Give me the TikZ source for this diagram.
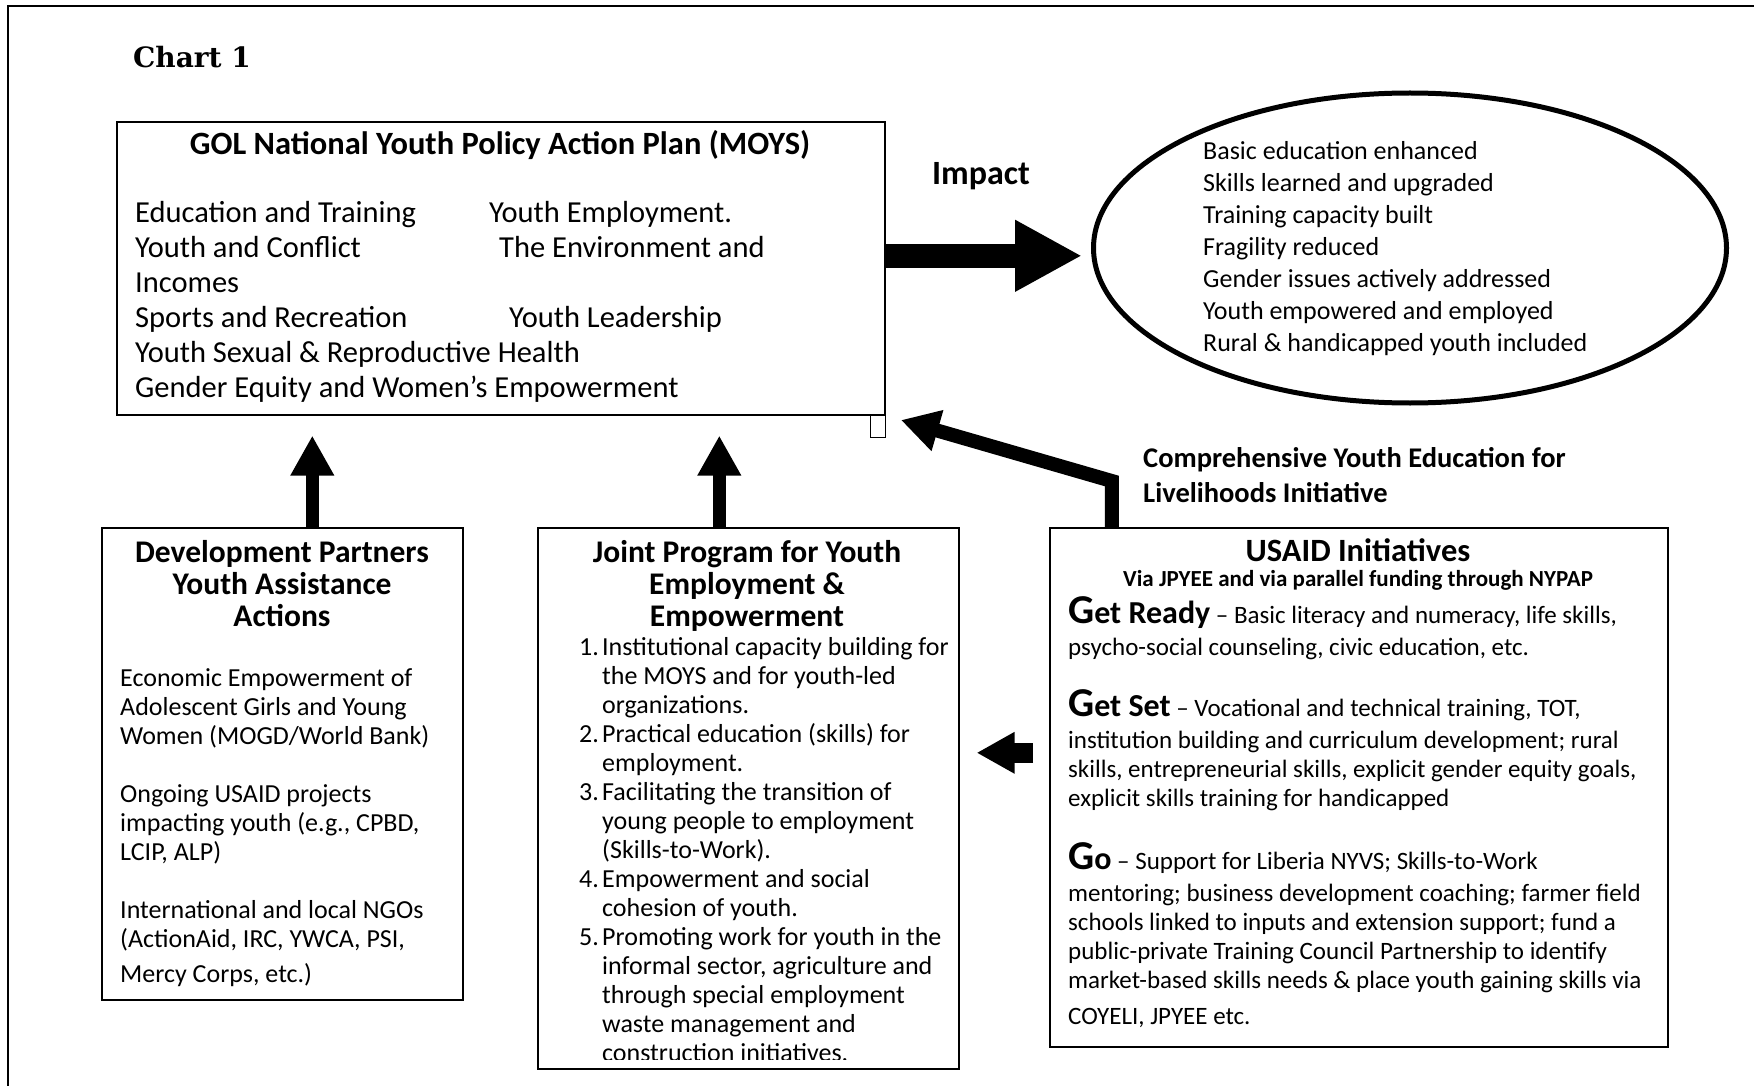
\documentclass[tikz,border=0pt]{standalone}
\usepackage{fontspec}
\setmainfont{Carlito}
\newfontfamily\chartfont{DejaVu Serif}
\usetikzlibrary{arrows.meta,shapes.geometric}
\setlength\lineskiplimit{-100pt}

\begin{document}
\begin{tikzpicture}[x=1pt,y=-1pt,
    box/.style={draw, line width=1.6pt, inner sep=0pt, anchor=north west},
    txt/.style={inner sep=0pt, anchor=north west, align=left},
    heading/.style={inner sep=0pt, anchor=north, align=center, font=\bfseries\fontsize{31.5}{32}\selectfont},
    uparrow/.style={line width=13pt, -{Triangle[width=41pt,length=40pt]}, shorten >=20pt},
    bigarrow/.style={line width=24pt, -{Triangle[width=67pt,length=67pt]}},
    sidearrow/.style={line width=20pt, -{Triangle[width=39pt,length=38pt]}},
    slantarrow/.style={line width=14pt, line join=miter, -{Triangle[width=40pt,length=38pt]}}]
    \useasboundingbox (0,0) rectangle (1754,1086);
    \draw[line width=1.5pt] (8,1086) -- (8,6) -- (1754,6);

    \node[inner sep=0pt] (chart) at (192,57) {\chartfont\bfseries\fontsize{28}{28}\selectfont Chart 1};

    % boxes
    \node[box, minimum width=768pt, minimum height=293pt] (main) at (116,121) {};
    \node[box, minimum width=361pt, minimum height=472pt] (dev) at (101,527) {};
    \node[box, minimum width=421pt, minimum height=541pt] (joint) at (537,527) {};
    \node[box, minimum width=618pt, minimum height=519pt] (usaid) at (1049,527) {};
    \node[draw, ellipse, line width=5pt, minimum width=633pt, minimum height=310pt] (impact) at (1410,248) {};
    \draw[line width=1.3pt] (main.south east) rectangle ++(-15,22);

    % main box text
    \node[inner sep=0pt, anchor=base, font=\bfseries\fontsize{32.5}{32}\selectfont] (maintitle) at (500,155) {GOL National Youth Policy Action Plan (MOYS)};
    \node[txt, font=\fontsize{30.5}{35}\selectfont] (maintext) at (135,201) {%
        \makebox[354pt][l]{Education and Training}Youth Employment.\\
        \makebox[364pt][l]{Youth and Conflict}The Environment and\\
        Incomes\\
        \makebox[374pt][l]{Sports and Recreation}Youth Leadership\\
        Youth Sexual \& Reproductive Health\\
        Gender Equity and Women’s Empowerment};

    \node[inner sep=0pt, anchor=base, font=\bfseries\fontsize{34}{34}\selectfont] (impactlabel) at (981,185) {Impact};
    \node[txt, font=\fontsize{26}{32}\selectfont] (impacttext) at (1203,141) {%
        Basic education enhanced\\
        Skills learned and upgraded\\
        Training capacity built\\
        Fragility reduced\\
        Gender issues actively addressed\\
        Youth empowered and employed\\
        Rural \& handicapped youth included};

    \node[txt, font=\bfseries\fontsize{28.5}{35}\selectfont] (cyel) at (1143,447) {%
        Comprehensive Youth Education for\\
        Livelihoods Initiative};

    % development partners
    \node[heading] (devtitle) at (282,540) {Development Partners\\ Youth Assistance\\ Actions};
    \node[txt, font=\fontsize{26}{29}\selectfont] (devtext) at (120,668) {%
        Economic Empowerment of\\
        Adolescent Girls and Young\\
        Women (MOGD/World Bank)\\[29pt]
        Ongoing USAID projects\\
        impacting youth (e.g., CPBD,\\
        LCIP, ALP)\\[29pt]
        International and local NGOs\\
        (ActionAid, IRC, YWCA, PSI,\\[6pt]
        Mercy Corps, etc.)};

    % joint program
    \node[heading] (jointtitle) at (747,540) {Joint Program for Youth\\ Employment \&\\ Empowerment};
    \begin{scope}
        \clip (joint.north west) rectangle ([yshift=10pt]joint.south east);
        \node[txt, font=\fontsize{26}{29}\selectfont] (jointtext) at (579,637.5) {%
            \makebox[23pt][l]{1.}Institutional capacity building for\\
            \hspace*{23pt}the MOYS and for youth-led\\
            \hspace*{23pt}organizations.\\
            \makebox[23pt][l]{2.}Practical education (skills) for\\
            \hspace*{23pt}employment.\\
            \makebox[23pt][l]{3.}Facilitating the transition of\\
            \hspace*{23pt}young people to employment\\
            \hspace*{23pt}(Skills-to-Work).\\
            \makebox[23pt][l]{4.}Empowerment and social\\
            \hspace*{23pt}cohesion of youth.\\
            \makebox[23pt][l]{5.}Promoting work for youth in the\\
            \hspace*{23pt}informal sector, agriculture and\\
            \hspace*{23pt}through special employment\\
            \hspace*{23pt}waste management and\\
            \hspace*{23pt}construction initiatives.};
    \end{scope}

    % usaid initiatives
    \node[inner sep=0pt, anchor=base, font=\bfseries\fontsize{32.5}{32}\selectfont] (usaidtitle) at (1358,561) {USAID Initiatives};
    \node[inner sep=0pt, anchor=base, font=\bfseries\fontsize{23}{24}\selectfont] (usaidsub) at (1358,586) {Via JPYEE and via parallel funding through NYPAP};
    \node[txt, font=\fontsize{25}{29}\selectfont] (usaidtext) at (1068,596) {%
        {\bfseries\fontsize{41}{29}\selectfont G}{\bfseries\fontsize{32}{29}\selectfont et Ready} -- Basic literacy and numeracy, life skills,\\[3pt]
        psycho-social counseling, civic education, etc.\\[32pt]
        {\bfseries\fontsize{41}{29}\selectfont G}{\bfseries\fontsize{32}{29}\selectfont et Set} -- Vocational and technical training, TOT,\\[3pt]
        institution building and curriculum development; rural\\
        skills, entrepreneurial skills, explicit gender equity goals,\\
        explicit skills training for handicapped\\[34pt]
        {\bfseries\fontsize{41}{29}\selectfont G}{\bfseries\fontsize{32}{29}\selectfont o} -- Support for Liberia NYVS; Skills-to-Work\\[3.5pt]
        mentoring; business development coaching; farmer field\\
        schools linked to inputs and extension support; fund a\\
        public-private Training Council Partnership to identify\\
        market-based skills needs \& place youth gaining skills via\\[7pt]
        COYELI, JPYEE etc.};

    % arrows
    \coordinate (devtop) at ([xshift=30pt]dev.north);
    \coordinate (jointtop) at ([xshift=-29pt]joint.north);
    \draw[uparrow] (devtop) -- (devtop |- main.south);
    \draw[uparrow] (jointtop) -- (jointtop |- main.south);
    \coordinate (mainright) at ([yshift=12.5pt]main.east);
    \draw[bigarrow, shorten >=9pt] (mainright) -- (mainright -| impact.west);
    \coordinate (usaidside) at ([yshift=34.5pt]usaid.west);
    \draw[sidearrow, shorten <=16pt, shorten >=17pt] (usaidside) -- (usaidside -| joint.east);
    \coordinate (usaidtop) at ([xshift=-247pt]usaid.north);
    \coordinate (bend) at ([yshift=46pt]usaidtop);
    \draw[slantarrow, shorten >=16pt] (usaidtop) -- (bend) -- (main.south east);
\end{tikzpicture}
\end{document}
